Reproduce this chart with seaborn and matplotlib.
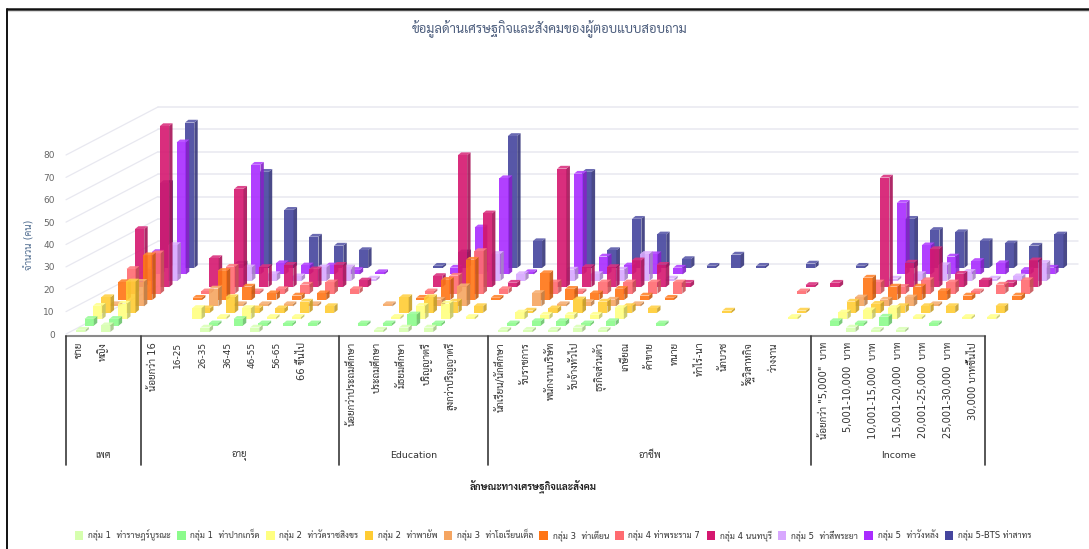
import warnings
import logging
import numpy as np
import pandas as pd
import matplotlib
matplotlib.use("Agg")
import matplotlib.pyplot as plt
from matplotlib.lines import Line2D
from matplotlib.patches import Patch, Polygon
from matplotlib.colors import to_rgb
import seaborn as sns

logging.getLogger("matplotlib.font_manager").setLevel(logging.ERROR)
warnings.filterwarnings("ignore")

sns.set_theme(style="white")
THAI_FONTS = ["DejaVu Sans", "Sarabun", "Noto Sans Thai", "Athiti"]
plt.rcParams["font.family"] = THAI_FONTS

# Survey counts per pier group; slots with an empty label separate the category groups.
ages = ["น้อยกว่า 16", "16-25", "26-35", "36-45", "46-55", "56-65", "66 ขึ้นไป"]
sexes = ["ชาย", "หญิง"]
education = ["น้อยกว่าประถมศึกษา", "ประถมศึกษา", "มัธยมศึกษา", "ปริญญาตรี", "สูงกว่าปริญญาตรี"]
occupations = ["นักเรียน/นักศึกษา", "รับราชการ", "พนักงานบริษัท", "รับจ้างทั่วไป", "ธุรกิจส่วนตัว", "เกษียณ",
               "ค้าขาย", "ทนาย", "ทำไร่-นา", "นักบวช", "รัฐวิสาหกิจ", "ว่างงาน"]
incomes = ['น้อยกว่า "5,000"  บาท', "5,001-10,000  บาท", "10,001-15,000  บาท", "15,001-20,000  บาท",
           "20,001-25,000  บาท", "25,001-30,000  บาท", "30,000 บาทขึ้นไป"]
group_names = ["เพศ", "อายุ", "Education", "อาชีพ", "Income"]
group_members = [sexes, ages, education, occupations, incomes]

series_names = ["กลุ่ม 1  ท่าราษฎร์บูรณะ", "กลุ่ม 1  ท่าปากเกร็ด", "กลุ่ม 2  ท่าวัดราชสิงขร", "กลุ่ม 2  ท่าพายัพ",
                "กลุ่ม 3  ท่าโอเรียนเต็ล", "กลุ่ม 3  ท่าเตียน", "กลุ่ม 4 ท่าพระราม 7", "กลุ่ม 4 นนทบุรี",
                "กลุ่ม 5  ท่าสี่พระยา", "กลุ่ม 5  ท่าวังหลัง", "กลุ่ม 5-BTS ท่าสาทร"]
series_colors = ["#D6FFAE", "#8CFB8C", "#FFFF80", "#FFCC33", "#F5A561", "#FF7414",
                 "#FF6B70", "#D5176F", "#D8A8FF", "#A92BFF", "#45459E"]

tharatburana = [1, 3, 0, 0, 0, 2, 0, 2, 0, 0, 0, 0, 1, 2, 2, 0, 0, 1, 1, 1, 2, 1, 0, 0, 0, 0, 0, 0, 0, 0, 0, 2, 1, 1, 0, 0, 0]
pakkret = [3, 3, 0, 0, 0, 1, 3, 1, 1, 1, 0, 1, 1, 5, 1, 0, 0, 1, 2, 2, 1, 2, 0, 1, 0, 0, 0, 0, 0, 0, 2, 1, 4, 0, 1, 0, 0]
ratchasingkhon = [6, 7, 0, 0, 5, 1, 5, 1, 1, 0, 0, 0, 1, 6, 7, 1, 0, 3, 2, 2, 2, 5, 0, 0, 0, 0, 0, 0, 1, 0, 3, 4, 5, 1, 0, 1, 1]
phayap = [7, 14, 0, 0, 2, 7, 2, 2, 5, 3, 0, 0, 7, 7, 5, 3, 0, 1, 2, 6, 5, 3, 2, 0, 0, 1, 0, 0, 1, 0, 5, 4, 3, 3, 3, 0, 3]
oriental = [1, 11, 0, 0, 8, 1, 1, 1, 1, 0, 0, 1, 0, 3, 9, 0, 0, 6, 1, 2, 3, 1, 0, 0, 0, 0, 0, 0, 0, 0, 4, 3, 4, 1, 0, 0, 0]
tha_tien = [8, 20, 0, 1, 13, 6, 3, 2, 3, 0, 0, 0, 1, 9, 18, 1, 0, 12, 5, 3, 5, 2, 1, 0, 0, 0, 0, 0, 0, 0, 10, 6, 6, 4, 2, 0, 2]
rama_7 = [11, 18, 0, 1, 12, 1, 2, 4, 5, 2, 0, 0, 1, 8, 19, 2, 0, 5, 1, 5, 5, 5, 5, 0, 0, 0, 0, 1, 0, 0, 5, 3, 6, 5, 1, 4, 6]
nonthaburi = [26, 72, 0, 13, 44, 9, 10, 8, 10, 3, 0, 0, 5, 59, 33, 2, 0, 53, 9, 9, 12, 10, 2, 0, 0, 0, 0, 1, 2, 0, 49, 11, 17, 6, 3, 2, 12]
si_phraya = [4, 16, 0, 0, 6, 3, 2, 6, 6, 1, 0, 0, 0, 0, 12, 3, 0, 5, 3, 5, 12, 1, 0, 0, 0, 0, 0, 0, 0, 0, 1, 3, 7, 4, 1, 2, 8]
wang_lang = [10, 59, 0, 0, 49, 5, 4, 4, 2, 1, 0, 0, 3, 21, 43, 1, 0, 45, 8, 4, 9, 3, 0, 0, 0, 0, 0, 0, 0, 0, 32, 13, 8, 6, 5, 2, 3]
sathorn = [38, 65, 0, 2, 43, 26, 14, 10, 8, 0, 0, 1, 7, 0, 59, 12, 0, 43, 8, 22, 15, 4, 1, 6, 1, 0, 2, 0, 1, 0, 22, 17, 16, 12, 11, 10, 15]
series_values = [tharatburana, pakkret, ratchasingkhon, phayap, oriental, tha_tien,
                 rama_7, nonthaburi, si_phraya, wang_lang, sathorn]

y_ticks = [0, 10, 20, 30, 40, 50, 60, 70, 80]

W, H, DPI = 1089, 549, 100
PX_LEFT, PX_RIGHT, PX_ZERO, PX_80 = 66, 985, 334, 155
N_SLOTS = len(tharatburana)
PX_PER_SLOT = (PX_RIGHT - PX_LEFT) / N_SLOTS
PX_PER_UNIT = (PX_ZERO - PX_80) / 80


def sx(px):
    """Horizontal pixel distance expressed in category slots."""
    return px / PX_PER_SLOT


def sy(px):
    """Vertical pixel distance expressed in count units."""
    return px / PX_PER_UNIT


def shade(color, amount):
    rgb = np.array(to_rgb(color))
    return tuple(np.clip(rgb * (1 + amount) if amount < 0 else rgb + (1 - rgb) * amount, 0, 1))


fig = plt.figure(figsize=(W / DPI, H / DPI), dpi=DPI, facecolor="white")
ax = fig.add_axes([PX_LEFT / W, 1 - PX_ZERO / H, (PX_RIGHT - PX_LEFT) / W, (PX_ZERO - PX_80) / H])
ax.patch.set_alpha(0)
for spine in ax.spines.values():
    spine.set_visible(False)

# Walls of the oblique box
wall_dx, wall_dy = sx(92), sy(48)
x0 = -0.5
grid = "#E8E8F0"
for v in y_ticks:
    ax.plot([x0, x0 + wall_dx], [v, v + wall_dy], color=grid, lw=0.9, clip_on=False, zorder=1)
    if v > 0:
        ax.plot([x0 + wall_dx, x0 + sx(1078 - PX_LEFT)], [v + wall_dy] * 2, color=grid, lw=1.1, clip_on=False, zorder=1)

# Each series stands on its own row of the floor, drawn from the back row forward
step_x, step_y = sx(8.4), sy(6.4)
start_x, start_y = sx(2.4), sy(2)
face_w = 9.3 / PX_PER_SLOT
side_dx, top_dy = sx(3.4), sy(2.8)
ALPHA = 0.9
slots = np.arange(N_SLOTS)
frame = pd.DataFrame({"slot": np.tile(slots, len(series_names)),
                      "series": np.repeat(series_names, N_SLOTS),
                      "count": np.concatenate(series_values)})

for s in reversed(range(len(series_names))):
    color = series_colors[s]
    rows = frame[frame["series"] == series_names[s]]
    order_z = 10 + (10 - s) * 3
    sns.barplot(data=rows, x="slot", y="count", order=list(slots), color=color, saturation=1,
                width=face_w, errorbar=None, alpha=ALPHA, linewidth=0, ax=ax, zorder=order_z)
    for rect, value in zip(ax.containers[-1], rows["count"]):
        if value <= 0:
            rect.set_visible(False)
            continue
        rect.set_x(rect.get_x() + start_x + s * step_x)
        rect.set_y(start_y + s * step_y)
        rect.set_clip_on(False)
        left, bottom = rect.get_x(), rect.get_y()
        right, top = left + rect.get_width(), bottom + rect.get_height()
        ax.add_patch(Polygon([(right, bottom), (right + side_dx, bottom + top_dy),
                              (right + side_dx, top + top_dy), (right, top)],
                             facecolor=shade(color, -0.22), edgecolor="none", alpha=ALPHA,
                             clip_on=False, zorder=order_z))
        ax.add_patch(Polygon([(left, top), (right, top), (right + side_dx, top + top_dy),
                              (left + side_dx, top + top_dy)],
                             facecolor=shade(color, 0.12), edgecolor="none", alpha=ALPHA,
                             clip_on=False, zorder=order_z))

ax.set_xlim(-0.5, N_SLOTS - 0.5)
ax.set_ylim(0, 80)
ax.set_xlabel("")
ax.set_ylabel("")
ax.set_xticks([])
ax.set_yticks(y_ticks)
ax.tick_params(axis="y", length=0, pad=8, labelsize=6.5, labelcolor="#666666")

# Category axis with grouped labels
axis_y = sy(PX_ZERO - 335.5)
ax.plot([-0.5, N_SLOTS - 0.5], [axis_y, axis_y], color="#8A8A8A", lw=1.5, clip_on=False, zorder=60)
label_y = sy(PX_ZERO - 342)
cursor = 0
edges = [-0.5]
for name, members in zip(group_names, group_members):
    for i, label in enumerate(members):
        has_thai = any(ord(ch) > 0x0E00 for ch in label)
        ax.text(cursor + i, label_y, label, rotation=90, ha="center", va="top",
                fontsize=7.1 if has_thai else 6.5, color="#333333")
    width = len(members) + (1 if name != group_names[-1] else 0)
    ax.text(cursor + (width - 1) / 2, sy(PX_ZERO - 455), name, ha="center", va="center", fontsize=6.8, color="#333333")
    cursor += width
    edges.append(cursor - 0.5)
for edge in edges:
    ax.plot([edge, edge], [axis_y, sy(PX_ZERO - 465)], color="#3A3A3A", lw=1.2, clip_on=False, zorder=60)

fig.text(550 / W, 1 - 29 / H, "ข้อมูลด้านเศรษฐกิจและสังคมของผู้ตอบแบบสอบถาม", ha="center", va="center",
         fontsize=9.4, color="#4E5F7E")
fig.text(533.5 / W, 1 - 487 / H, "ลักษณะทางเศรษฐกิจและสังคม", ha="center", va="center",
         fontsize=7, fontweight="bold", color="#222222")
fig.text(29 / W, 1 - 245 / H, "จำนวน (คน)", rotation=90, ha="center", va="center",
         fontsize=7, color="#4F6C8F")

handles = [Patch(facecolor=c, edgecolor="none") for c in series_colors]
fig.legend(handles, series_names, loc="center", bbox_to_anchor=(553 / W, 1 - 535 / H), ncol=len(series_names),
           frameon=False, fontsize=6.1, handlelength=1.0, handleheight=1.15, handletextpad=0.55,
           columnspacing=0.75, labelcolor="#333333", borderpad=0)

# Page frame at the top and left edges
fig.add_artist(Line2D([7 / W, 1], [1 - 9 / H, 1 - 9 / H], color="#111111", lw=1.8))
fig.add_artist(Line2D([7 / W, 1], [1 - 10.8 / H, 1 - 10.8 / H], color="#D8D8D8", lw=0.8))
fig.add_artist(Line2D([7 / W, 7 / W], [0, 1 - 9 / H], color="#111111", lw=1.4))

fig.savefig("out.png", dpi=DPI)
